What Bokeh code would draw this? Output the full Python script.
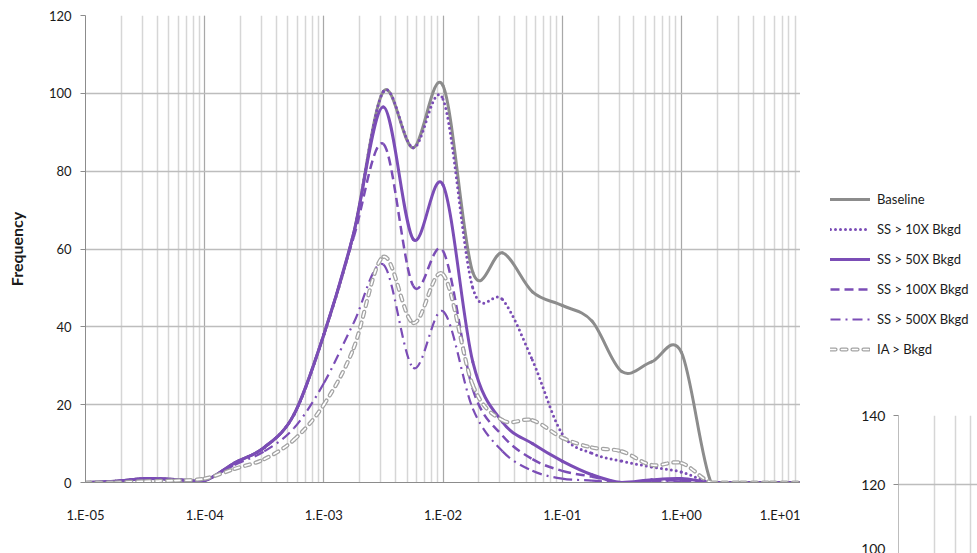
import numpy as np
from bokeh.plotting import figure
from bokeh.layouts import row, column
from bokeh.models import (Range1d, FixedTicker, CustomJSTickFormatter, Legend,
                          LegendItem, Label)
from bokeh.embed import file_html
from bokeh.resources import INLINE

# ---------------- data ----------------
# attenuation factor, as log10 values (quarter-decade bins)
log_factor = [-5.0, -4.75, -4.5, -4.25, -4.0, -3.75, -3.5, -3.25, -3.0, -2.75,
              -2.5, -2.25, -2.0, -1.75, -1.5, -1.25, -1.0, -0.75, -0.5, -0.25,
              0.0, 0.25, 0.5, 0.75, 1.0]

baseline = [0, 0.3, 1, 0.8, 0.5, 5, 9, 17.5, 38, 64, 100.5, 86, 102, 54, 59,
            49, 45.5, 41.5, 28.5, 31, 33.5, 0, 0, 0, 0]
ss_10x = [0, 0.3, 1, 0.8, 0.5, 5, 9, 17.5, 38, 64, 100.5, 86, 98.5, 50, 47,
          31.5, 12.5, 7.5, 5.5, 4, 2.7, 0, 0, 0, 0]
ss_50x = [0, 0.3, 1, 0.8, 0.5, 5, 9, 17.5, 38, 64, 96.5, 62.5, 76.5, 31, 15.5,
          10, 5.5, 2, 0, 0.7, 1, 0, 0, 0, 0]
ss_100x = [0, 0.3, 1, 0.8, 0.5, 5, 9, 17.5, 38, 63, 87, 50.5, 59.5, 24, 12,
           6, 3, 1.5, 0, 0.5, 0.5, 0, 0, 0, 0]
ss_500x = [0, 0.3, 1, 0.8, 0.5, 4.5, 8, 14, 25.5, 41, 56, 29.5, 44, 19, 8,
           3, 1, 0.5, 0, 0.3, 0.3, 0, 0, 0, 0]
ia_bkgd = [0, 0, 0.3, 0.5, 1, 3.5, 6, 11, 20, 34.5, 58, 41, 53.5, 25, 16,
           16, 11.5, 9, 8, 4.5, 5, 0, 0, 0, 0]

series_names = ["Baseline", "SS > 10X Bkgd", "SS > 50X Bkgd",
                "SS > 100X Bkgd", "SS > 500X Bkgd", "IA > Bkgd"]
y_ticks = [0, 20, 40, 60, 80, 100, 120]
x_tick_labels = ["1.E-05", "1.E-04", "1.E-03", "1.E-02", "1.E-01", "1.E+00", "1.E+01"]
second_chart_y_ticks = [100, 120, 140]
second_chart_x_major = [1e-5]
second_chart_x_minor = [2e-5, 3e-5, 4e-5, 5e-5]

x_title = "Subslab Soil Gas Attenuation Factor"
y_title = "Frequency"

# ---------------- styles ----------------
FONT = "Lato"
TEXT = "#1a1a1a"
GRAY = "#8c8c8c"
PURPLE = "#7b4db6"
IA_GRAY = "#a3a3a3"

styles = [
    [dict(line_color=GRAY, line_width=3, line_cap="round")],
    [dict(line_color=PURPLE, line_width=3, line_dash="0 5", line_cap="round")],
    [dict(line_color=PURPLE, line_width=3, line_cap="round")],
    [dict(line_color=PURPLE, line_width=2.5, line_dash="9 5")],
    [dict(line_color=PURPLE, line_width=2.2, line_dash="10 5 2 5")],
    [dict(line_color=IA_GRAY, line_width=4.2, line_dash="5 6", line_cap="round"),
     dict(line_color="white", line_width=1.7, line_dash="5 6", line_cap="round")],
]
all_series = [baseline, ss_10x, ss_50x, ss_100x, ss_500x, ia_bkgd]
factor = [10 ** u for u in log_factor]


def smooth_segments(u, v):
    """Cubic Bezier segments (Excel-style smoothed line) in log-x space."""
    u = list(u); v = list(v)
    up = [u[0]] + u + [u[-1]]
    vp = [v[0]] + v + [v[-1]]
    out = {k: [] for k in ("x0", "y0", "x1", "y1", "cx0", "cy0", "cx1", "cy1")}
    for i in range(len(u) - 1):
        pu, pv = up[i], vp[i]
        au, av = up[i + 1], vp[i + 1]
        bu, bv = up[i + 2], vp[i + 2]
        nu, nv = up[i + 3], vp[i + 3]
        c0u, c0v = au + (bu - pu) / 6.0, av + (bv - pv) / 6.0
        c1u, c1v = bu - (nu - au) / 6.0, bv - (nv - av) / 6.0
        out["x0"].append(10 ** au); out["y0"].append(av)
        out["x1"].append(10 ** bu); out["y1"].append(bv)
        out["cx0"].append(10 ** c0u); out["cy0"].append(max(c0v, 0.0))
        out["cx1"].append(10 ** c1u); out["cy1"].append(max(c1v, 0.0))
    return out


# ---------------- main chart ----------------
p = figure(width=800, height=553, x_axis_type="log",
           x_range=Range1d(1e-5, 10), y_range=Range1d(0, 120),
           output_backend="svg", toolbar_location=None,
           min_border_left=85, min_border_right=0, min_border_top=15,
           min_border_bottom=71)
p.outline_line_color = None
p.background_fill_color = "white"
p.border_fill_color = "white"

p.xgrid.grid_line_color = "#a8a8a8"
p.xgrid.grid_line_width = 1
p.xgrid.minor_grid_line_color = "#d6d6d6"
p.xgrid.minor_grid_line_width = 1.5
p.ygrid.grid_line_color = "#bdbdbd"
p.ygrid.grid_line_width = 1.6

p.yaxis.ticker = FixedTicker(ticks=y_ticks)
p.yaxis.axis_line_color = "#8c8c8c"
p.yaxis.major_tick_line_color = "#8c8c8c"
p.yaxis.major_tick_out = 5
p.yaxis.major_tick_in = 0
p.yaxis.minor_tick_line_color = None
p.yaxis.major_label_standoff = 9
p.yaxis.major_label_text_font = FONT
p.yaxis.major_label_text_font_size = "13px"
p.yaxis.major_label_text_color = TEXT
p.yaxis.axis_label = y_title
p.yaxis.axis_label_text_font = FONT
p.yaxis.axis_label_text_font_size = "16px"
p.yaxis.axis_label_text_font_style = "bold"
p.yaxis.axis_label_text_color = TEXT
p.yaxis.axis_label_standoff = 20

p.xaxis.formatter = CustomJSTickFormatter(
    args=dict(labels=x_tick_labels),
    code="const e = Math.round(Math.log10(tick)); return labels[e + 5];")
p.xaxis.axis_line_color = "#8c8c8c"
p.xaxis.major_tick_line_color = "#a8a8a8"
p.xaxis.major_tick_out = 0
p.xaxis.major_tick_in = 0
p.xaxis.minor_tick_line_color = None
p.xaxis.major_label_standoff = 20
p.xaxis.major_label_text_font = FONT
p.xaxis.major_label_text_font_size = "13px"
p.xaxis.major_label_text_color = TEXT

for vals, sty in zip(all_series, styles):
    seg = smooth_segments(log_factor, vals)
    for s in sty:
        p.bezier(x0=seg["x0"], y0=seg["y0"], x1=seg["x1"], y1=seg["y1"],
                 cx0=seg["cx0"], cy0=seg["cy0"], cx1=seg["cx1"], cy1=seg["cy1"], **s)

p.add_layout(Label(x=389, y=-58, x_units="screen", y_units="screen",
                   text=x_title, text_align="center", text_baseline="middle",
                   text_font=FONT, text_font_size="16px", text_font_style="bold",
                   text_color=TEXT))

# ---------------- legend panel (right, top) ----------------
lg = figure(width=177, height=380, x_range=Range1d(-2, -1), y_range=Range1d(-2, -1),
            output_backend="svg", toolbar_location=None,
            x_axis_location=None, y_axis_location=None,
            min_border_left=0, min_border_right=0,
            min_border_top=0, min_border_bottom=0)
lg.outline_line_color = None
lg.xgrid.visible = False
lg.ygrid.visible = False
items = []
for name, vals, sty in zip(series_names, all_series, styles):
    # the same series as legend proxies; they lie outside this panel's window
    rs = [lg.line(x=factor, y=vals, **s) for s in sty]
    items.append(LegendItem(label=name, renderers=rs))
legend = Legend(items=items, location=(30, 21), orientation="vertical",
                glyph_width=40, glyph_height=20, label_height=20,
                label_standoff=7, spacing=10, padding=0, margin=0,
                border_line_color=None, background_fill_alpha=0,
                label_text_font=FONT, label_text_font_size="13px",
                label_text_color=TEXT)
lg.add_layout(legend, "center")

# ---------- partially visible neighbouring chart (right, bottom) ----------
q = figure(width=177, height=173, x_axis_type="log",
           x_range=Range1d(1e-5, 10 ** (-5 + 79 / 119.5)), y_range=Range1d(100, 140),
           output_backend="svg", toolbar_location=None,
           min_border_left=98, min_border_top=35, min_border_right=0,
           min_border_bottom=0)
q.outline_line_color = None
q.xaxis.visible = False
q.xgrid.ticker = FixedTicker(ticks=second_chart_x_major, minor_ticks=second_chart_x_minor)
q.xgrid.grid_line_color = "#a8a8a8"
q.xgrid.minor_grid_line_color = "#d6d6d6"
q.xgrid.minor_grid_line_width = 1.5
q.ygrid.grid_line_color = "#bdbdbd"
q.ygrid.grid_line_width = 1.6
q.yaxis.ticker = FixedTicker(ticks=second_chart_y_ticks)
q.yaxis.axis_line_color = "#bdbdbd"
q.yaxis.major_tick_line_color = "#8c8c8c"
q.yaxis.major_tick_out = 5
q.yaxis.major_tick_in = 0
q.yaxis.minor_tick_line_color = None
q.yaxis.major_label_standoff = 8
q.yaxis.major_label_text_font = FONT
q.yaxis.major_label_text_font_size = "14px"
q.yaxis.major_label_text_color = TEXT

layout = row(p, column(lg, column(q, spacing=0), spacing=0), spacing=0)
open("out.html", "w").write(file_html(layout, INLINE))
